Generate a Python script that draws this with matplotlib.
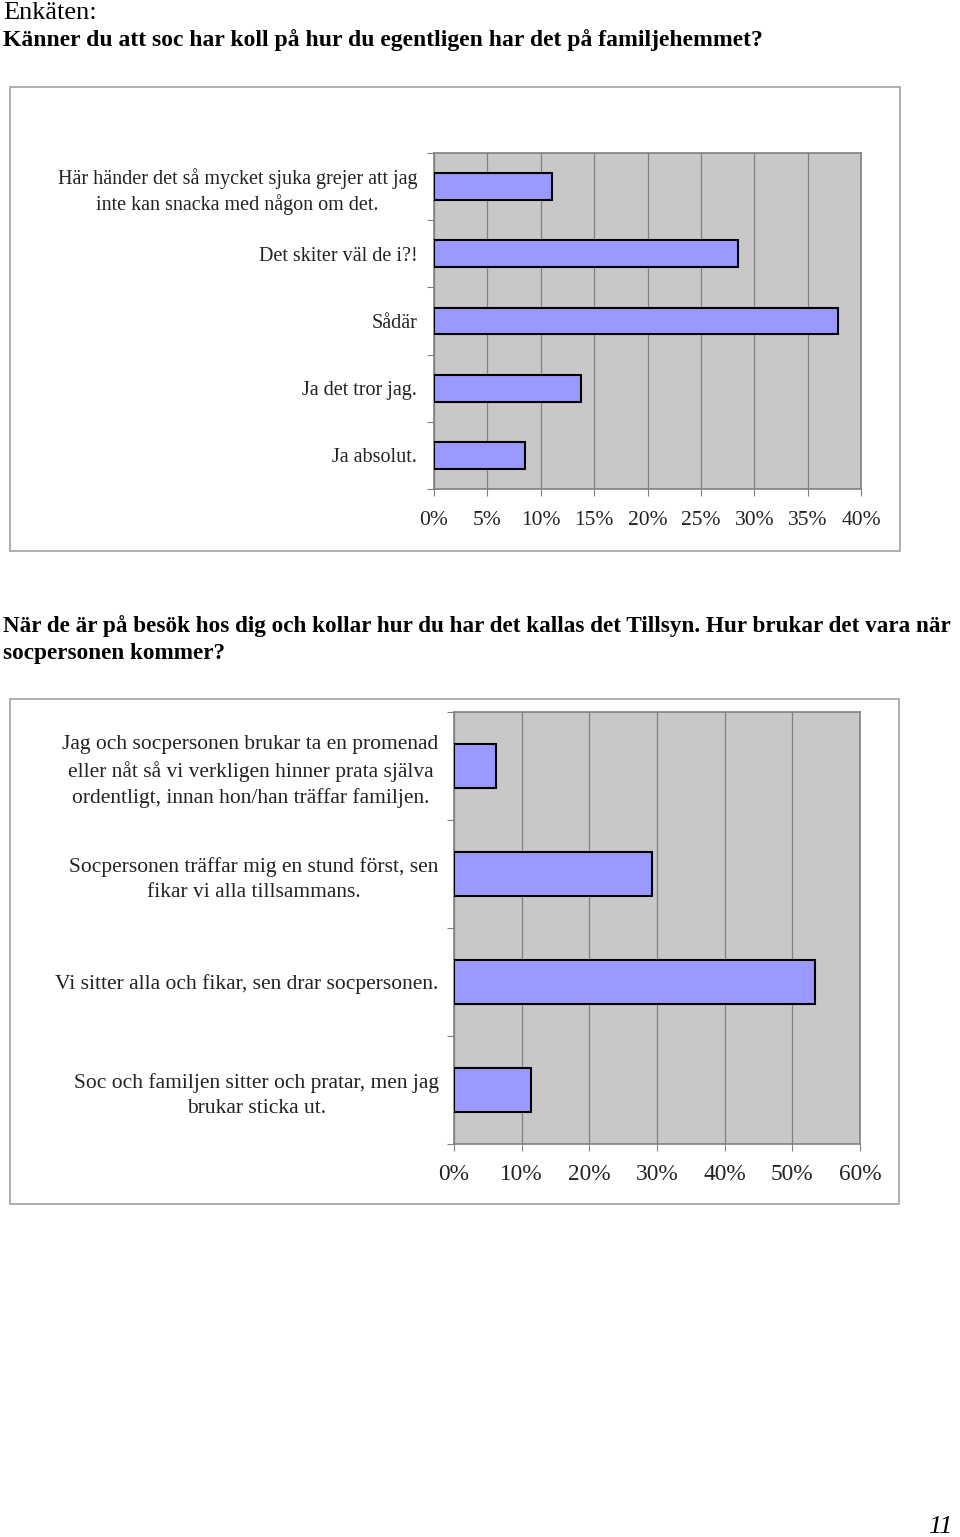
import matplotlib.pyplot as plt
import matplotlib.patches as mpatches
from matplotlib.ticker import FixedLocator, PercentFormatter

# chart 1: Känner du att soc har koll ...
labels1 = ['Här händer det så mycket sjuka grejer att jag\ninte kan snacka med någon om det.',
           'Det skiter väl de i?!',
           'Sådär',
           'Ja det tror jag.',
           'Ja absolut.']
values1 = [11.1, 28.5, 37.8, 13.8, 8.5]
ticks1 = [0, 5, 10, 15, 20, 25, 30, 35, 40]

# chart 2: Hur brukar det vara när socpersonen kommer?
labels2 = ['Jag och socpersonen brukar ta en promenad\neller nåt så vi verkligen hinner prata själva\nordentligt, innan hon/han träffar familjen.',
           'Socpersonen träffar mig en stund först, sen\nfikar vi alla tillsammans.',
           'Vi sitter alla och fikar, sen drar socpersonen.',
           'Soc och familjen sitter och pratar, men jag\nbrukar sticka ut.']
values2 = [6.2, 29.3, 53.3, 11.4]
ticks2 = [0, 10, 20, 30, 40, 50, 60]

W, H = 960, 1537
plt.rcParams['font.family'] = 'Liberation Serif'

fig = plt.figure(figsize=(W / 100, H / 100), dpi=100)


def px(x, y):
    return x / W, 1 - y / H


def box(x0, y0, x1, y1):
    r = mpatches.Rectangle(px(x0, y1), (x1 - x0) / W, (y1 - y0) / H,
                           transform=fig.transFigure, fill=False,
                           edgecolor='#a8a8a8', lw=1.3)
    fig.patches.append(r)


def bar_chart(rect, labels, values, ticks, lab_fs, tick_fs, lsp, pad, xpad):
    ax = fig.add_axes(rect)
    ax.set_facecolor('#c8c8c8')
    n = len(labels)
    pos = list(range(n))
    ax.barh(pos, values, height=0.4, color='#9999ff', edgecolor='black',
            linewidth=1.5, zorder=3)
    ax.set_xlim(ticks[0], ticks[-1])
    ax.set_ylim(n - 0.5, -0.5)
    ax.xaxis.set_major_locator(FixedLocator(ticks))
    ax.xaxis.set_major_formatter(PercentFormatter(decimals=0))
    ax.grid(axis='x', color='#808080', lw=0.9, zorder=1)
    ax.set_yticks([i - 0.5 for i in range(n + 1)])
    ax.set_yticklabels([])
    ax.set_yticks(pos, minor=True)
    ax.set_yticklabels(labels, minor=True, fontsize=lab_fs, color='#222222',
                       multialignment='center', linespacing=lsp)
    ax.tick_params(axis='y', which='minor', length=0, pad=pad)
    ax.tick_params(axis='y', which='major', length=5, color='#808080')
    ax.tick_params(axis='x', length=5, color='#808080', pad=xpad,
                   labelsize=tick_fs, labelcolor='#222222')
    for s in ax.spines.values():
        s.set_color('#808080')
        s.set_linewidth(1.2)
    return ax


fig.text(*px(3, 13), 'Enkäten:', fontsize=19, va='center', ha='left')
fig.text(*px(3, 40), 'Känner du att soc har koll på hur du egentligen har det på familjehemmet?',
         fontsize=17, fontweight='bold', va='center', ha='left')

box(10, 87, 900, 551)
bar_chart([434 / W, 1 - 489 / H, 427 / W, 336 / H], labels1, values1, ticks1,
          14.5, 15.5, 1.3, 12, 11)

fig.text(*px(3, 626), 'När de är på besök hos dig och kollar hur du har det kallas det Tillsyn. Hur brukar det vara när',
         fontsize=16.7, fontweight='bold', va='center', ha='left')
fig.text(*px(3, 653), 'socpersonen kommer?', fontsize=16.7, fontweight='bold', va='center', ha='left')

box(10, 699, 899, 1204)
bar_chart([454 / W, 1 - 1144 / H, 406 / W, 432 / H], labels2, values2, ticks2,
          15.5, 16.8, 1.4, 11, 9.5)

fig.text(*px(940, 1527), '11', fontsize=19, style='italic', va='center', ha='center')

fig.savefig('out.png', dpi=100)
